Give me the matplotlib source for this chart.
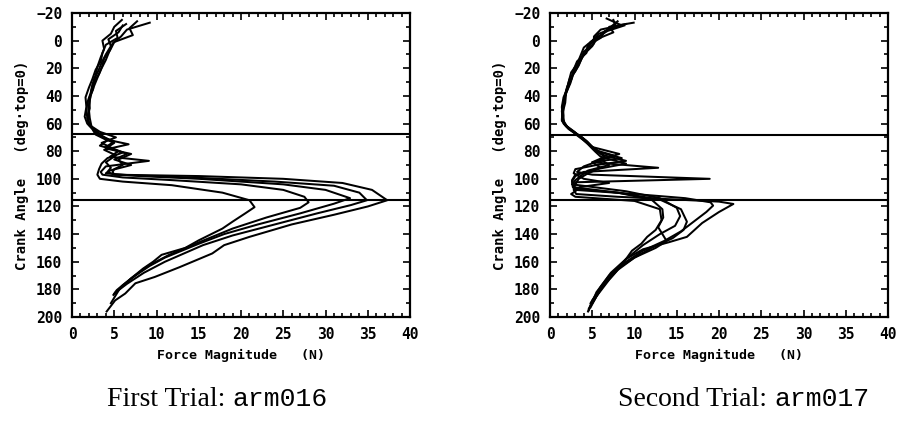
import matplotlib
matplotlib.use("Agg")
import matplotlib.pyplot as plt
from matplotlib.ticker import MultipleLocator

# ---- arm016: force magnitude (N) vs crank angle (deg) for each revolution ----
L1_angle = [-13, -8, -3, 2, 8, 14, 20, 27, 33, 40, 47, 54, 60, 65, 69, 73, 77, 81, 85, 89, 93, 97, 100, 102,
            104.6, 110, 115.5, 120.5, 125, 131, 136, 144.5, 150, 155, 160, 165, 171, 176, 180.5, 183]
L1_force = [9.2, 6.5, 5.8, 4.8, 4.4, 4.0, 3.5, 3.0, 2.6, 2.2, 2.0, 1.9, 2.0, 2.6, 3.4, 5.0, 4.0, 6.0, 4.2, 3.5,
            3.2, 3.0, 3.3, 6.0, 11.8, 17.8, 21.0, 21.6, 20.5, 19.0, 17.8, 15.0, 13.4, 10.6, 9.6, 8.4, 7.2, 6.2,
            5.3, 5.0]

L2_angle = [-15, -10, -5, 0, 6, 12, 19, 25, 32, 38, 45, 52, 58, 63, 68, 72, 76, 80, 84, 87, 91, 95, 97, 99,
            101, 104, 108, 113, 117, 121, 128, 136, 146, 155, 163, 172, 180, 186, 190]
L2_force = [5.9, 5.0, 4.6, 3.6, 3.8, 3.4, 3.0, 2.8, 2.4, 2.2, 1.8, 1.7, 1.9, 2.4, 3.0, 4.2, 3.3, 5.5, 4.5, 9.1,
            4.0, 3.4, 3.6, 6.0, 12.0, 20.0, 25.0, 27.5, 28.0, 27.0, 23.0, 19.0, 15.0, 11.5, 9.0, 7.0, 5.6, 5.0,
            4.6]

L3_angle = [-14, -9, -4, 1, 7, 13, 18, 24, 30, 36, 43, 50, 56, 62, 66, 70, 74, 78, 82, 86, 90, 94, 96, 98,
            100, 104, 108, 114, 118, 125, 133, 140, 147, 152, 157, 163, 170, 177, 184]
L3_force = [7.7, 6.8, 7.2, 5.0, 4.5, 3.8, 3.6, 3.2, 2.6, 2.3, 2.1, 2.0, 2.1, 2.3, 3.3, 5.2, 3.5, 4.8, 6.5, 5.0,
            7.0, 4.5, 4.0, 8.0, 15.0, 25.0, 30.0, 32.9, 31.0, 27.0, 22.0, 18.0, 15.0, 13.0, 11.0, 9.2, 7.5, 6.0,
            4.9]

L4_angle = [-11, -6, -1, 4, 10, 16, 22, 28, 35, 42, 49, 56, 61, 65, 69, 72, 75, 79, 83, 88, 92, 95, 97, 99,
            102, 105, 110, 115.5, 119, 125, 133, 141, 148, 152, 160, 168, 176, 182]
L4_force = [6.0, 5.5, 4.3, 4.6, 4.0, 3.5, 3.1, 2.6, 2.5, 2.0, 2.1, 1.8, 2.0, 2.8, 3.6, 4.4, 6.7, 3.8, 5.2, 4.0,
            4.6, 4.2, 5.0, 14.0, 24.0, 31.0, 34.0, 34.9, 33.0, 29.0, 24.0, 19.0, 15.5, 14.0, 11.0, 8.5, 6.5, 5.2]

L5_angle = [-12, -7, -2, 3, 9, 15, 21, 28, 34, 41, 48, 55, 60, 64, 68, 71, 74, 78, 82, 86, 90, 93, 95, 97,
            98, 100, 103, 108, 115.5, 120, 126, 133, 142, 148, 154, 164, 171, 175.6, 183, 188, 196]
L5_force = [6.4, 5.2, 5.4, 4.0, 3.6, 3.4, 2.8, 2.4, 2.0, 1.6, 1.7, 1.5, 1.8, 2.4, 2.8, 3.8, 5.0, 4.0, 7.0, 5.5,
            6.0, 5.0, 4.8, 5.0, 15.0, 25.0, 32.0, 35.5, 37.3, 35.0, 31.0, 26.0, 21.0, 18.0, 16.6, 12.7, 9.8, 7.5,
            6.3, 5.1, 4.1]

# ---- arm017 ----
R1_angle = [-13, -10, -6, -1, 4, 10, 16, 22, 28, 35, 42, 50, 57, 61, 65, 70, 75, 80, 84, 88, 92, 96, 100, 104,
            108, 111, 113, 115, 116.5, 118.2, 124, 132, 142, 146, 151, 158, 166, 173, 185, 193]
R1_force = [9.9, 7.0, 7.5, 5.5, 5.0, 4.0, 3.5, 3.0, 2.3, 2.0, 1.7, 1.5, 1.4, 1.8, 2.6, 3.8, 4.6, 5.5, 6.5, 5.0,
            6.0, 4.5, 3.4, 3.0, 2.8, 3.1, 8.0, 15.0, 20.0, 21.7, 20.0, 18.0, 16.2, 14.0, 11.0, 9.0, 8.0, 7.0,
            5.5, 4.8]

R2_angle = [-16, -11, -7, -2, 3, 9, 15, 21, 27, 34, 41, 48, 55, 60, 64, 69, 74, 79, 83, 87, 91, 95, 97, 100,
            102.5, 105, 108, 111, 114, 117, 119.4, 124, 131, 138, 145, 152, 160, 170, 182, 195]
R2_force = [6.7, 8.5, 6.5, 6.0, 4.6, 4.3, 3.2, 2.8, 2.6, 2.1, 1.6, 1.4, 1.5, 1.7, 2.3, 3.3, 4.4, 5.2, 7.5, 5.8,
            4.0, 3.2, 5.0, 18.9, 3.0, 2.8, 3.0, 10.0, 16.0, 19.0, 19.3, 18.5, 17.0, 15.5, 13.5, 11.0, 9.0, 7.0,
            5.5, 4.6]

R3_angle = [-14, -9, -4, 1, 6, 12, 18, 25, 31, 38, 45, 52, 58, 62, 66, 71, 76, 81, 85, 88, 92, 95, 98, 102,
            106, 110, 115, 122, 131, 137, 143, 150, 157, 166, 176, 188, 196]
R3_force = [8.0, 7.0, 6.0, 4.8, 4.5, 3.8, 3.4, 2.7, 2.4, 1.9, 1.8, 1.5, 1.4, 1.9, 2.8, 4.0, 4.8, 6.0, 8.5, 5.0,
            12.8, 4.0, 3.0, 2.6, 2.7, 8.0, 13.0, 15.5, 16.2, 15.8, 14.5, 12.0, 10.0, 8.0, 6.5, 5.0, 4.5]

R4_angle = [-12, -8, -3, 2, 8, 14, 20, 26, 33, 40, 47, 54, 59, 63, 67, 72, 77, 82, 86, 90, 94, 98, 101, 104,
            109, 114, 121, 127, 134, 140, 148, 158, 168, 178, 190]
R4_force = [9.0, 6.0, 5.2, 5.2, 4.0, 3.6, 2.9, 2.6, 2.2, 1.8, 1.5, 1.6, 1.6, 2.1, 3.0, 4.2, 5.0, 8.2, 6.0, 7.0,
            4.5, 3.6, 3.0, 2.6, 9.0, 13.0, 15.0, 15.4, 14.8, 13.0, 11.0, 9.0, 7.2, 6.0, 4.8]

R5_angle = [-15, -10, -5, 0, 5, 11, 17, 23, 30, 37, 44, 51, 57, 62, 66, 70, 75, 80, 84, 89, 93, 97, 101, 103,
            107, 110, 115, 122, 128, 135, 141, 145, 150, 157, 165, 175, 190]
R5_force = [7.5, 7.8, 5.8, 5.0, 4.0, 3.6, 3.2, 2.5, 2.2, 1.9, 1.6, 1.4, 1.5, 2.0, 2.9, 3.6, 4.5, 5.3, 6.0, 9.0,
            5.5, 3.0, 2.6, 2.7, 2.8, 8.0, 12.0, 13.3, 13.4, 12.8, 13.4, 13.8, 12.5, 10.0, 8.0, 6.5, 5.0]

R6_angle = [-11, -7, -2, 3, 9, 15, 21, 27, 34, 41, 48, 55, 60, 64, 68, 73, 78, 83, 87, 90, 93, 96, 100, 103,
            106, 109, 111, 113, 116, 122, 130, 137, 142, 147, 152, 158, 165, 172, 180, 188, 194]
R6_force = [8.8, 6.8, 5.5, 4.5, 4.2, 3.4, 3.0, 2.5, 2.0, 1.7, 1.6, 1.5, 1.6, 2.2, 3.2, 4.4, 5.2, 6.4, 9.0, 5.5,
            3.0, 2.8, 4.0, 7.0, 3.5, 3.0, 2.5, 3.0, 10.0, 13.0, 13.2, 12.5, 11.5, 10.8, 9.7, 9.0, 8.0, 7.0, 6.0,
            5.2, 4.6]

trial1_curves = [(L1_force, L1_angle), (L2_force, L2_angle), (L3_force, L3_angle),
                 (L4_force, L4_angle), (L5_force, L5_angle)]
trial2_curves = [(R1_force, R1_angle), (R2_force, R2_angle), (R3_force, R3_angle),
                 (R4_force, R4_angle), (R5_force, R5_angle), (R6_force, R6_angle)]

# phase boundaries (deg) marked on each trial
trial1_marks = [67.5, 115]
trial2_marks = [68.5, 115]

x_ticks = [0, 5, 10, 15, 20, 25, 30, 35, 40]
y_ticks = [-20, 0, 20, 40, 60, 80, 100, 120, 140, 160, 180, 200]

captions = [("First Trial: ", "arm016"), ("Second Trial: ", "arm017")]

MONO = "DejaVu Sans Mono"


def draw_panel(ax, curves, marks):
    for force, angle in curves:
        ax.plot(force, angle, color="black", lw=1.45, solid_joinstyle="round")
    for m in marks:
        ax.axhline(m, color="black", lw=1.5)
    ax.set_xlim(0, 40)
    ax.set_ylim(200, -20)
    ax.set_xticks(x_ticks)
    ax.set_yticks(y_ticks)
    ax.xaxis.set_minor_locator(MultipleLocator(1))
    ax.yaxis.set_minor_locator(MultipleLocator(10))
    ax.tick_params(which="both", direction="in", top=True, right=True, width=1.2)
    ax.tick_params(which="major", length=5, pad=7)
    ax.tick_params(which="minor", length=3)
    for lab in ax.get_xticklabels() + ax.get_yticklabels():
        lab.set_fontfamily(MONO)
        lab.set_fontweight("bold")
        lab.set_fontsize(10.5)
    for sp in ax.spines.values():
        sp.set_linewidth(1.6)
    ax.set_xlabel("Force Magnitude   (N)", family=MONO, fontweight="bold", fontsize=9.5, labelpad=5)
    ax.set_ylabel("Crank Angle   (deg\u00b7top=0)", family=MONO, fontweight="bold", fontsize=10, labelpad=5)


fig = plt.figure(figsize=(8.99, 4.25), dpi=100)
ax1 = fig.add_axes([0.0801, 0.2541, 0.376, 0.7153])
ax2 = fig.add_axes([0.6118, 0.2541, 0.376, 0.7153])
draw_panel(ax1, trial1_curves, trial1_marks)
draw_panel(ax2, trial2_curves, trial2_marks)

# captions: serif title followed by the run name in typewriter face
renderer = fig.canvas.get_renderer()
for (head, name), xc in zip(captions, [217 / 899, 744 / 899]):
    t1 = fig.text(0, 0.045, head, family="Liberation Serif", fontsize=20, va="baseline")
    t2 = fig.text(0, 0.045, name, family="Liberation Mono", fontsize=19, va="baseline")
    w1 = t1.get_window_extent(renderer).width / fig.bbox.width
    w2 = t2.get_window_extent(renderer).width / fig.bbox.width
    x0 = xc - (w1 + w2) / 2
    t1.set_x(x0)
    t2.set_x(x0 + w1)

fig.savefig("out.png", dpi=100)
